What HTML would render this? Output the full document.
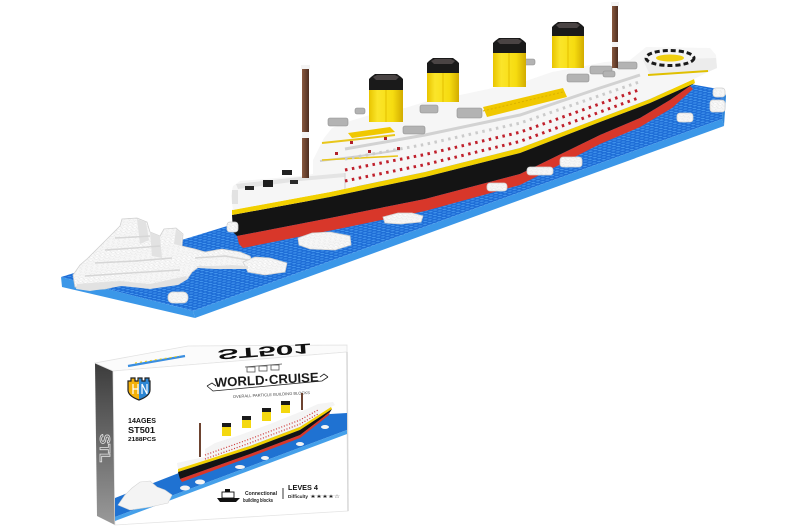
<!DOCTYPE html>
<html><head><meta charset="utf-8"><style>
html,body{margin:0;padding:0;background:#fff;}
svg{display:block;}
text{font-family:"Liberation Sans","DejaVu Sans",sans-serif;}
</style></head><body>
<svg width="800" height="531" viewBox="0 0 800 531" xmlns="http://www.w3.org/2000/svg">
<defs>
 <pattern id="studs" width="5" height="4.6" patternUnits="userSpaceOnUse" patternTransform="matrix(0.94,-0.34,0.975,0.22,0,0)">
  <rect width="5" height="4.6" fill="#1e6dd6"/>
  <circle cx="2.5" cy="2.3" r="1.5" fill="#4193ec"/>
 </pattern>
 <pattern id="ice" width="6" height="5" patternUnits="userSpaceOnUse" patternTransform="matrix(0.94,-0.34,0.975,0.22,0,0)">
  <rect width="6" height="5" fill="#f6f6f6"/>
  <circle cx="3" cy="2.5" r="1.6" fill="#ffffff" stroke="#dcdcdc" stroke-width="0.5"/>
 </pattern>
 <linearGradient id="spine" x1="0" y1="0" x2="0" y2="1">
  <stop offset="0" stop-color="#3c3c3c"/><stop offset="1" stop-color="#9a9a9a"/>
 </linearGradient>
 <linearGradient id="shield" x1="0" y1="0" x2="1" y2="0">
  <stop offset="0.5" stop-color="#f3b10a"/><stop offset="0.5" stop-color="#2c86d4"/>
 </linearGradient>
 <linearGradient id="mast" x1="0" y1="0" x2="1" y2="0">
  <stop offset="0" stop-color="#8a5a40"/><stop offset="1" stop-color="#4e2e20"/>
 </linearGradient>
 <linearGradient id="fun" x1="0" y1="0" x2="1" y2="0">
  <stop offset="0" stop-color="#e8c400"/><stop offset="0.25" stop-color="#fbe52a"/><stop offset="0.7" stop-color="#f6dc10"/><stop offset="1" stop-color="#d2ac00"/>
 </linearGradient>
</defs>

<rect width="800" height="531" fill="#fff"/>

<!-- ===== BLUE BASE ===== -->
<polygon points="61,277 193,311 722,119 724,90 690,84" fill="url(#studs)"/>
<polygon points="61,277 193,311 195,318 62,287" fill="#3b97e8"/>
<polygon points="193,311 722,119 724,126 195,318" fill="#3b97e8"/>
<polygon points="722,119 724,90 726,96 724,126" fill="#2f86da"/>

<!-- ===== SHIP HULL ===== -->
<polygon points="232,215 330,197 425,177 520,153 600,122 650,103 695,83 690,86 670,100 640,118 600,135 520,174 425,199 330,218 237,236 233,232" fill="#141414"/>
<polygon points="237,236 330,218 425,199 520,174 600,135 640,118 670,100 690,86 693,89 672,108 640,127 600,144 520,185 425,211 343,228 243,248 239,244" fill="#d8372a"/>
<polygon points="232,210 330,192 425,172 520,148 600,118 650,99 694,79 695,83 650,103 600,122 520,153 425,177 330,197 232,215" fill="#f2d000"/>

<!-- ===== SUPERSTRUCTURE ===== -->
<polygon points="233,210 231,196 233,186 240,181 300,176 313,174 313,160 318,150 324,138 332,128 350,121 370,115 405,108 428,101 460,95 493,88 526,81 552,72 585,66 605,62 630,60 640,52 646,47 710,48 716,55 717,68 708,72 694,79 650,99 600,118 520,148 425,172 330,192" fill="#f6f6f6"/>
<!-- stern deck top -->
<polygon points="236,184 300,177 345,173 345,177 300,181 238,189" fill="#e4e4e4"/>
<line x1="345" y1="173" x2="345" y2="189" stroke="#dcdcdc" stroke-width="1.5"/>
<rect x="245" y="186" width="9" height="4" fill="#262626"/>
<rect x="263" y="180" width="10" height="7" fill="#1e1e1e"/>
<rect x="282" y="170" width="10" height="5" fill="#222"/>
<rect x="290" y="180" width="8" height="4" fill="#2a2a2a"/>
<rect x="232" y="190" width="6" height="14" fill="#e2e2e2"/>
<!-- deck shading lines -->
<polyline points="345,149 425,135 520,115 600,88 640,75" fill="none" stroke="#d2d2d2" stroke-width="3"/>
<polyline points="320,161 360,156 400,150" fill="none" stroke="#d0d0d0" stroke-width="2"/>
<polyline points="322,143 360,139 395,135" fill="none" stroke="#e8c61a" stroke-width="2"/>
<polyline points="322,160 360,158 398,156" fill="none" stroke="#e8c61a" stroke-width="1.6"/>
<polygon points="348,133 390,127 395,132 352,138" fill="#f0c800"/>
<polygon points="483,107 563,88 567,97 487,117" fill="#f0c800"/>
<polyline points="483,111 563,92" fill="none" stroke="#d9b000" stroke-width="1" stroke-dasharray="2 2"/>
<!-- window rows -->
<polyline points="345,181 425,164.6 520,141.4 600,112 640,97.3" fill="none" stroke="#c0202c" stroke-width="3" stroke-dasharray="2.5 4.5"/>
<polyline points="345,170 425,154.5 520,132.2 600,103.8 640,89.5" fill="none" stroke="#c0202c" stroke-width="3" stroke-dasharray="2.5 4.5"/>
<polyline points="345,159 425,144.4 520,123.1 600,95.5 640,81.7" fill="none" stroke="#cbcbcb" stroke-width="3" stroke-dasharray="2.5 4.5"/>
<rect x="350" y="141" width="3" height="3" fill="#b0202a"/>
<rect x="368" y="150" width="3" height="3" fill="#b0202a"/>
<rect x="384" y="137" width="3" height="3" fill="#b0202a"/>
<rect x="397" y="147" width="3" height="3" fill="#b0202a"/>
<rect x="335" y="152" width="3" height="3" fill="#b0202a"/>
<!-- lifeboats / gray blocks -->
<g fill="#b3b3b3" stroke="#8f8f8f" stroke-width="0.6">
 <rect x="328" y="118" width="20" height="8" rx="2"/>
 <rect x="355" y="108" width="10" height="6" rx="2"/>
 <rect x="403" y="126" width="22" height="8" rx="2"/>
 <rect x="420" y="105" width="18" height="8" rx="2"/>
 <rect x="457" y="108" width="25" height="10" rx="2"/>
 <rect x="523" y="59" width="12" height="6" rx="2"/>
 <rect x="567" y="74" width="22" height="8" rx="2"/>
 <rect x="590" y="66" width="22" height="8" rx="2"/>
 <rect x="603" y="71" width="12" height="6" rx="2"/>
 <rect x="617" y="62" width="20" height="7" rx="2"/>
</g>
<!-- bow deck -->
<polygon points="643,60 716,58 717,68 708,72 650,75" fill="#ececec"/>
<ellipse cx="670" cy="58" rx="24" ry="7.5" fill="#f4f4f4" stroke="#1a1a1a" stroke-width="3" stroke-dasharray="5 3"/>
<ellipse cx="670" cy="58" rx="14" ry="3.5" fill="#f0cf10"/>
<polyline points="648,75 708,71" stroke="#e0c000" stroke-width="2" fill="none"/>

<!-- ===== FUNNELS ===== -->
<g>
 <rect x="369" y="90" width="34" height="32" fill="url(#fun)"/>
 <polygon points="371,77 375,74 397,74 401,77 403,79 403,90 369,90 369,79" fill="#1a1a1a"/>
 <polygon points="373,77 377,75 395,75 399,77 396,80 376,80" fill="#4a4444"/>
 <line x1="386" y1="90" x2="386" y2="122" stroke="#e3c000" stroke-width="1"/>

 <rect x="427" y="73" width="32" height="29" fill="url(#fun)"/>
 <polygon points="429,61 433,58 453,58 457,61 459,63 459,73 427,73 427,63" fill="#1a1a1a"/>
 <polygon points="431,61 435,59 451,59 455,61 452,64 434,64" fill="#4a4444"/>
 <line x1="443" y1="73" x2="443" y2="102" stroke="#e3c000" stroke-width="1"/>

 <rect x="493" y="53" width="33" height="34" fill="url(#fun)"/>
 <polygon points="495,41 499,38 520,38 524,41 526,43 526,53 493,53 493,43" fill="#1a1a1a"/>
 <polygon points="497,41 501,39 518,39 522,41 519,44 500,44" fill="#4a4444"/>
 <line x1="509" y1="53" x2="509" y2="87" stroke="#e3c000" stroke-width="1"/>

 <rect x="552" y="36" width="32" height="32" fill="url(#fun)"/>
 <polygon points="554,25 558,22 578,22 582,25 584,27 584,36 552,36 552,27" fill="#1a1a1a"/>
 <polygon points="556,25 560,23 576,23 580,25 577,28 559,28" fill="#4a4444"/>
 <line x1="568" y1="36" x2="568" y2="68" stroke="#e3c000" stroke-width="1"/>
</g>

<!-- ===== MASTS ===== -->
<rect x="302" y="68" width="7" height="110" fill="url(#mast)"/>
<rect x="301" y="65" width="9" height="4" fill="#f4f4f4"/>
<rect x="302" y="132" width="7" height="6" fill="#f4f4f4"/>
<rect x="612" y="4" width="6" height="64" fill="url(#mast)"/>
<rect x="611" y="2" width="8" height="4" fill="#f4f4f4"/>
<rect x="612" y="42" width="6" height="5" fill="#f4f4f4"/>

<!-- ===== ICE ===== -->
<g fill="url(#ice)" stroke="#d0d0d0" stroke-width="0.8">
 <polygon points="75,287 73,275 80,265 88,258 96,250 104,242 112,234 120,226 122,219 137,218 147,222 150,232 160,236 164,229 176,228 183,234 182,246 195,249 205,252 222,249 240,252 250,256 253,263 248,268 232,267 215,268 200,266 192,272 188,278 178,284 165,285 150,288 138,286 122,285 105,289 88,290"/>
 <polygon points="243,262 255,257 270,258 287,263 285,272 265,275 248,272"/>
 <rect x="168" y="292" width="20" height="11" rx="5"/>
 <rect x="227" y="222" width="11" height="10" rx="3"/>
 <polygon points="298,238 312,233 330,232 350,236 351,245 335,250 310,249 299,245"/>
 <polygon points="383,217 398,213 412,213 423,216 421,222 400,224 385,223"/>
 <rect x="487" y="183" width="20" height="8" rx="3"/>
 <rect x="527" y="167" width="26" height="8" rx="3"/>
 <rect x="560" y="157" width="22" height="10" rx="3"/>
 <rect x="677" y="113" width="16" height="9" rx="3"/>
 <rect x="710" y="100" width="15" height="12" rx="3"/>
 <rect x="713" y="88" width="12" height="9" rx="3"/>
</g>
<g fill="#e2e2e2">
 <polygon points="137,219 146,222 149,240 140,244"/>
 <polygon points="176,229 182,234 181,246 174,244"/>
 <polygon points="77,284 120,281 150,284 186,276 188,279 178,285 150,289 122,286 90,291 76,289"/>
 <polygon points="150,232 160,236 162,258 152,256"/>
 <polygon points="196,266 215,266 232,265 248,266 248,269 215,269 198,268"/>
</g>
<g fill="none" stroke="#d6d6d6" stroke-width="1.5">
 <polyline points="85,276 130,273 180,270"/>
 <polyline points="95,263 135,261 172,258"/>
 <polyline points="105,250 135,248 160,246"/>
 <polyline points="115,238 135,237 150,236"/>
 <polyline points="195,258 225,256 248,260"/>
</g>

<!-- ===== BOX ===== -->
<polygon points="95,363 113,371 115,525 97,516" fill="url(#spine)"/>
<text x="0" y="0" transform="translate(100,434) rotate(90)" font-size="15" font-weight="bold" fill="none" stroke="#e2e2e2" stroke-width="0.8" font-family="Liberation Serif, serif">STL</text>
<polygon points="95,363 188,346 347,345 347,352 113,371" fill="#fbfbfb" stroke="#e2e2e2" stroke-width="0.8"/>
<polygon points="113,371 347,352 348,511 115,525" fill="#ffffff" stroke="#e4e4e4" stroke-width="0.8"/>
<line x1="347" y1="352" x2="348" y2="511" stroke="#d8d8d8" stroke-width="1.5"/>
<!-- top face -->
<polyline points="128,366 185,356" stroke="#3a8ee0" stroke-width="2.2" fill="none"/>
<polyline points="135,363 180,356" stroke="#f0cf10" stroke-width="1" stroke-dasharray="2 3" fill="none"/>
<text transform="translate(217,350) rotate(-4) scale(1,-1)" font-size="14" font-weight="bold" fill="#111" textLength="94" lengthAdjust="spacingAndGlyphs" font-family="Liberation Sans, sans-serif">ST501</text>

<!-- logo -->
<path d="M128,381 h3 v-3 h4 v3 h3 v-3 h4 v3 h3 v-3 h4 v3 h1 v9 q0,6 -11,10 q-11,-4 -11,-10 z" fill="url(#shield)" stroke="#222" stroke-width="1.2"/>
<path d="M133,384 v10 M133,389 h5 M138,384 v10 M142,384 l5,10 M142,384 v10 M147,384 v10" stroke="#fff" stroke-width="1.2" fill="none"/>

<!-- title -->
<g fill="none" stroke="#555" stroke-width="0.8">
 <rect x="247" y="367" width="8" height="5"/><rect x="259" y="366" width="8" height="5"/><rect x="271" y="365" width="8" height="5"/>
 <line x1="245" y1="367" x2="282" y2="364"/>
</g>
<text x="215" y="387" transform="rotate(-3 215 387)" font-family="Liberation Serif, serif" font-weight="bold" font-size="13" fill="#1a1a1a" textLength="104" lengthAdjust="spacingAndGlyphs">WORLD·CRUISE</text>
<g fill="none" stroke="#222" stroke-width="0.8">
 <polyline points="207,386 213,391 322,381 328,377"/>
 <polyline points="207,386 212,383 216,386"/>
 <polyline points="328,377 324,374 320,377"/>
</g>
<text x="233" y="398" transform="rotate(-3 233 398)" font-size="4" fill="#444" textLength="77" lengthAdjust="spacingAndGlyphs">OVERALL PARTICLE BUILDING BLOCKS</text>

<!-- left info -->
<text x="128" y="423" font-size="7" font-weight="bold" fill="#111" textLength="28" lengthAdjust="spacingAndGlyphs" font-family="Liberation Serif, serif">14AGES</text>
<text x="128" y="433" font-size="8.5" font-weight="bold" fill="#111" textLength="27" lengthAdjust="spacingAndGlyphs" font-family="Liberation Serif, serif">ST501</text>
<text x="128" y="441" font-size="5.5" font-weight="bold" fill="#111" textLength="28" lengthAdjust="spacingAndGlyphs" font-family="Liberation Serif, serif">2188PCS</text>

<!-- mini scene -->
<polygon points="115,498 330,414 347,413 347,430 115,517" fill="#1f72d2"/>
<polygon points="115,517 347,430 347,434 115,521" fill="#45a0ea"/>
<polygon points="118,505 125,495 132,488 140,482 150,481 157,487 165,490 172,495 168,503 150,507 130,510" fill="#f4f4f4" stroke="#d4d4d4" stroke-width="0.6"/>
<g fill="#f4f4f4">
 <ellipse cx="185" cy="488" rx="5" ry="2.5"/><ellipse cx="200" cy="482" rx="5" ry="2.5"/>
 <ellipse cx="240" cy="467" rx="5" ry="2"/><ellipse cx="265" cy="458" rx="4" ry="2"/>
 <ellipse cx="300" cy="444" rx="4" ry="2"/><ellipse cx="325" cy="427" rx="4" ry="2"/>
</g>
<polygon points="178,469 177,463 190,460 205,457 205,449 215,443 240,435 270,424 300,412 318,404 333,402 335,405 331,407 300,427 250,446" fill="#f4f4f4"/>
<polygon points="178,469 250,446 300,427 331,407 332,409 300,430 250,449 178,472" fill="#f2d000"/>
<polygon points="178,472 250,449 300,430 332,409 330,412 300,435 250,454 180,479" fill="#141414"/>
<polygon points="180,479 250,454 300,435 330,412 329,415 300,438 250,457 182,482" fill="#d8372a"/>
<polyline points="205,459 250,443 300,424 318,414" fill="none" stroke="#c33" stroke-width="1.2" stroke-dasharray="1 1.8"/>
<polyline points="205,455 250,439 300,420 318,410" fill="none" stroke="#c33" stroke-width="1.2" stroke-dasharray="1 1.8"/>
<g>
 <rect x="222" y="423" width="9" height="13" fill="#f4d810"/><rect x="222" y="423" width="9" height="4" fill="#1a1a1a"/>
 <rect x="242" y="416" width="9" height="12" fill="#f4d810"/><rect x="242" y="416" width="9" height="4" fill="#1a1a1a"/>
 <rect x="262" y="408" width="9" height="13" fill="#f4d810"/><rect x="262" y="408" width="9" height="4" fill="#1a1a1a"/>
 <rect x="281" y="401" width="9" height="12" fill="#f4d810"/><rect x="281" y="401" width="9" height="4" fill="#1a1a1a"/>
</g>
<rect x="199" y="423" width="2" height="34" fill="#6d4330"/>
<rect x="301" y="393" width="2" height="17" fill="#6d4330"/>

<!-- bottom info -->
<g fill="#111">
 <polygon points="217,498 240,498 236,502 220,502"/>
</g>
<rect x="222" y="492" width="12" height="6" fill="none" stroke="#111" stroke-width="0.9"/>
<rect x="225" y="489" width="5" height="3" fill="#111"/>
<text x="245" y="495" font-size="5" font-weight="bold" fill="#222" textLength="32" lengthAdjust="spacingAndGlyphs" font-family="Liberation Serif, serif">Connectional</text>
<text x="243" y="502" font-size="5" font-weight="bold" fill="#222" textLength="30" lengthAdjust="spacingAndGlyphs" font-family="Liberation Serif, serif">building blocks</text>
<line x1="283" y1="488" x2="283" y2="499" stroke="#222" stroke-width="0.9"/>
<text x="288" y="490" font-size="7" font-weight="bold" fill="#111" textLength="30" lengthAdjust="spacingAndGlyphs" font-family="Liberation Serif, serif">LEVES 4</text>
<text x="288" y="498" font-size="4.5" font-weight="bold" fill="#222" textLength="20" lengthAdjust="spacingAndGlyphs" font-family="Liberation Serif, serif">Difficulty</text>
<text x="310" y="498" font-size="5" fill="#222" textLength="30" lengthAdjust="spacingAndGlyphs" font-family="DejaVu Sans, sans-serif">★★★★☆</text>
</svg>
</body></html>
